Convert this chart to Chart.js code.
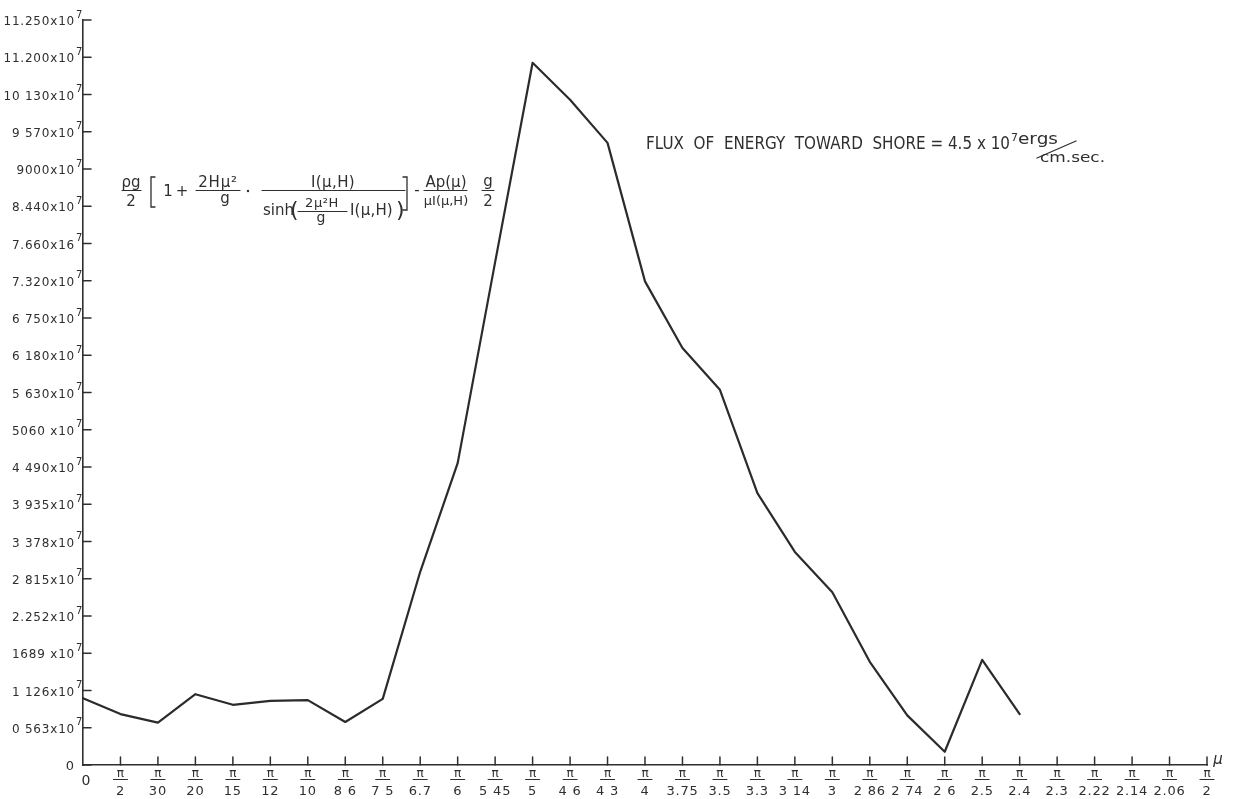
<!DOCTYPE html>
<html>
<head>
<meta charset="utf-8">
<script src="https://cdn.jsdelivr.net/npm/chart.js@4/dist/chart.umd.min.js"></script>
<style>
  html, body { margin: 0; padding: 0; background: #ffffff; }
  #wrap { width: 1237px; height: 799px; position: relative; }
  canvas { display: block; }
</style>
</head>
<body>
<div id="wrap"><canvas id="flux" width="1237" height="799"></canvas></div>
<script>
// Wave number μ, written as π / denominator along the horizontal axis
const muDenominators = ['0', '2', '30', '20', '15', '12', '10', '8 6', '7 5', '6.7', '6', '5 45', '5', '4 6', '4 3', '4',
  '3.75', '3.5', '3.3', '3 14', '3', '2 86', '2 74', '2 6', '2.5', '2.4', '2.3', '2.22', '2.14', '2.06', '2'];

// Energy flux at each μ, in units of 10^7 ergs/cm.sec (no values past π/2.4)
const fluxValues = [1.01, 0.77, 0.64, 1.07, 0.91, 0.97, 0.98, 0.65, 1.00, 2.92, 4.55, 7.49, 11.04, 10.05, 9.40, 7.31,
  6.29, 5.67, 4.10, 3.22, 2.61, 1.56, 0.75, 0.20, 1.59, 0.77, null, null, null, null, null];

// Vertical axis: evenly spaced ticks carrying these values (units of 10^7)
const yTickValues = [0, 0.563, 1.126, 1.689, 2.252, 2.815, 3.378, 3.935, 4.490, 5.060, 5.630, 6.180, 6.750, 7.320,
  7.660, 8.440, 9.000, 9.570, 10.130, 11.200, 11.250];
const yTickLabels = ['0', '0 563x10', '1 126x10', '1689 x10', '2.252x10', '2 815x10', '3 378x10', '3 935x10', '4 490x10',
  '5060 x10', '5 630x10', '6 180x10', '6 750x10', '7.320x10', '7.660x16', '8.440x10', '9000x10', '9 570x10',
  '10 130x10', '11.200x10', '11.250x10'];

const INK = '#2f2f2f';
const FONT = '"DejaVu Sans", "Liberation Sans", sans-serif';

// Scale whose ticks sit at equal steps while each step spans its own value range
const LinearScale = Chart.LinearScale || Chart.registry.getScale('linear');
function slotOf(v) {
  const t = yTickValues, n = t.length - 1;
  if (v <= t[0]) return 0;
  for (let i = 0; i < n; i++) {
    if (v <= t[i + 1]) return i + (v - t[i]) / (t[i + 1] - t[i]);
  }
  return n;
}
class SteppedValueScale extends LinearScale {
  determineDataLimits() {
    this.min = yTickValues[0];
    this.max = yTickValues[yTickValues.length - 1];
  }
  buildTicks() {
    return yTickValues.map(v => ({ value: v }));
  }
  getPixelForValue(v) {
    if (v === null || v === undefined || isNaN(v)) return NaN;
    return this.getPixelForDecimal(slotOf(v) / (yTickValues.length - 1));
  }
  getValueForPixel(p) {
    const n = yTickValues.length - 1;
    const s = Math.max(0, Math.min(n, this.getDecimalForPixel(p) * n));
    const i = Math.min(Math.floor(s), n - 1);
    return yTickValues[i] + (s - i) * (yTickValues[i + 1] - yTickValues[i]);
  }
}
SteppedValueScale.id = 'steppedValue';
Chart.register(SteppedValueScale);

function txt(ctx, s, x, y, size, align, ls, style) {
  ctx.font = (style || '') + ' ' + size + 'px ' + FONT;
  ctx.textAlign = align || 'center';
  ctx.textBaseline = 'alphabetic';
  ctx.letterSpacing = (ls || 0) + 'px';
  ctx.fillText(s, x, y);
}
function fitText(ctx, s, x0, x1, base, size) {
  ctx.font = size + 'px ' + FONT;
  ctx.letterSpacing = '0px';
  ctx.textAlign = 'left';
  ctx.textBaseline = 'alphabetic';
  const w = ctx.measureText(s).width;
  ctx.save();
  ctx.translate(x0, base);
  ctx.scale((x1 - x0) / w, 1);
  ctx.fillText(s, 0, 0);
  ctx.restore();
}
function seg(ctx, x0, y0, x1, y1, w) {
  ctx.lineWidth = w || 1.2;
  ctx.beginPath();
  ctx.moveTo(x0, y0);
  ctx.lineTo(x1, y1);
  ctx.stroke();
}
function poly(ctx, pts, w) {
  ctx.lineWidth = w || 1.2;
  ctx.beginPath();
  pts.forEach((p, i) => (i ? ctx.lineTo(p[0], p[1]) : ctx.moveTo(p[0], p[1])));
  ctx.stroke();
}

// Tick marks, fraction labels, the flux formula and the heading
const axisArt = {
  id: 'axisArt',
  afterDraw(chart) {
    const { ctx, chartArea: area, scales: { x, y } } = chart;
    ctx.save();
    ctx.strokeStyle = INK;
    ctx.fillStyle = INK;
    ctx.lineCap = 'round';

    // vertical axis ticks point into the plot
    yTickValues.forEach((v, i) => {
      const py = y.getPixelForValue(v);
      seg(ctx, area.left, py, area.left + 8, py, 1.5);
      if (i === 0) {
        txt(ctx, yTickLabels[i], 70, py + 4.5, 13, 'center');
      } else {
        txt(ctx, yTickLabels[i], 75, py + 5, 12, 'right', 0.8);
        txt(ctx, '7', 76, py - 2.5, 10, 'left');
      }
    });

    // horizontal axis ticks point up
    muDenominators.forEach((d, i) => {
      const px = x.getPixelForValue(i);
      if (i > 0) seg(ctx, px, area.bottom, px, area.bottom - 8, 1.5);
      if (i === 0) {
        txt(ctx, d, px + 3, 785, 14, 'center');
      } else {
        txt(ctx, 'π', px, 777, 12, 'center');
        seg(ctx, px - 7, 779.5, px + 7, 779.5, 1.2);
        txt(ctx, d, px, 795, 13, 'center', 0.8);
      }
    });
    txt(ctx, 'μ', area.right + 11, 764, 15, 'center', 0, 'italic');

    // formula for the flux
    const F = 15;
    txt(ctx, 'ρg', 131, 187, F, 'center');
    seg(ctx, 122, 190.5, 141, 190.5);
    txt(ctx, '2', 131, 206, F, 'center');
    poly(ctx, [[155, 177], [151, 177], [151, 207], [155, 207]], 1.3);
    txt(ctx, '1', 168, 196, F, 'center');
    txt(ctx, '+', 182, 196, F, 'center');
    txt(ctx, '2Hμ²', 218, 187, F, 'center', 0.8);
    seg(ctx, 196, 190.5, 240, 190.5);
    txt(ctx, 'g', 225, 203, F, 'center');
    ctx.beginPath(); ctx.arc(248, 191, 1.2, 0, Math.PI * 2); ctx.fill();
    txt(ctx, 'I(μ,H)', 333, 187, F, 'center', 0.4);
    seg(ctx, 262, 190.5, 405, 190.5);
    txt(ctx, 'sinh', 263, 215, F, 'left');
    txt(ctx, '(', 290, 217, 22, 'left');
    txt(ctx, '2μ²H', 322, 207, 13, 'center', 0.6);
    seg(ctx, 298, 211.5, 347, 211.5);
    txt(ctx, 'g', 321, 222, 14, 'center');
    txt(ctx, 'I(μ,H)', 350, 215, F, 'left', 0.2);
    txt(ctx, ')', 396, 217, 22, 'left');
    poly(ctx, [[403, 177], [407, 177], [407, 210], [403, 210]], 1.3);
    txt(ctx, '-', 417, 195, F, 'center');
    txt(ctx, 'Ap(μ)', 446, 187, F, 'center');
    seg(ctx, 424, 190.5, 467, 190.5);
    txt(ctx, 'μI(μ,H)', 446, 205, 13, 'center');
    txt(ctx, 'g', 488, 186, F, 'center');
    seg(ctx, 482, 190.5, 494, 190.5);
    txt(ctx, '2', 488, 206, F, 'center');

    // heading
    fitText(ctx, 'FLUX  OF  ENERGY  TOWARD  SHORE = 4.5 x 10', 646, 1010, 149, 17);
    txt(ctx, '7', 1011, 141, 11, 'left');
    fitText(ctx, 'ergs', 1018, 1058, 144, 15);
    seg(ctx, 1037, 158, 1076, 141, 1.3);
    fitText(ctx, 'cm.sec.', 1040, 1105, 162, 14);

    ctx.restore();
  }
};

new Chart(document.getElementById('flux'), {
  type: 'line',
  data: {
    labels: muDenominators,
    datasets: [{
      data: fluxValues,
      borderColor: '#2b2b2b',
      borderWidth: 2.2,
      pointRadius: 0,
      tension: 0,
      fill: false,
      spanGaps: false,
      borderJoinStyle: 'round',
      borderCapStyle: 'round'
    }]
  },
  options: {
    responsive: false,
    animation: false,
    events: [],
    layout: { padding: { left: 83, right: 30, top: 20, bottom: 34 } },
    plugins: { legend: { display: false }, tooltip: { enabled: false } },
    scales: {
      x: {
        type: 'category',
        offset: false,
        ticks: { display: false },
        grid: { display: true, drawOnChartArea: false, drawTicks: false },
        border: { display: true, color: INK, width: 1.6 }
      },
      y: {
        type: 'steppedValue',
        ticks: { display: false },
        grid: { display: true, drawOnChartArea: false, drawTicks: false },
        border: { display: true, color: INK, width: 1.6 }
      }
    }
  },
  plugins: [axisArt]
});
</script>
</body>
</html>
